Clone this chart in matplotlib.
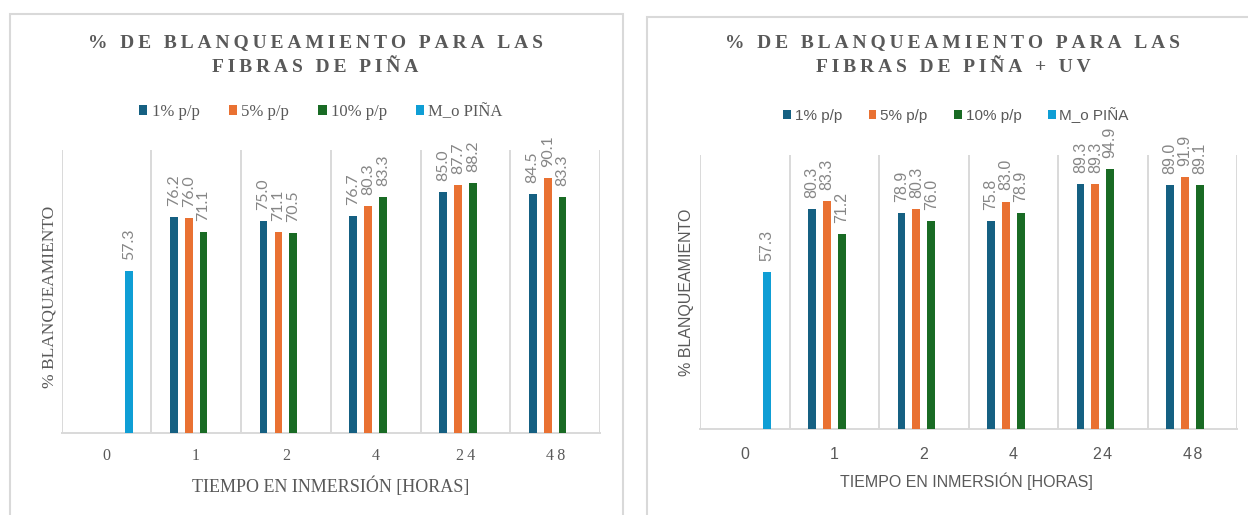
import numpy as np
import matplotlib.pyplot as plt
from matplotlib.patches import Rectangle, Patch

horas = ["0", "1", "2", "4", "24", "48"]
series = ["1% p/p", "5% p/p", "10% p/p", "M_o PIÑA"]
colores = ["#156082", "#E97132", "#196B24", "#0F9ED5"]

# % de blanqueamiento, fibras de piña
pina_1 = [np.nan, 76.2, 75.0, 76.7, 85.0, 84.5]
pina_5 = [np.nan, 76.0, 71.1, 80.3, 87.7, 90.1]
pina_10 = [np.nan, 71.1, 70.5, 83.3, 88.2, 83.3]
pina_mo = [57.3, np.nan, np.nan, np.nan, np.nan, np.nan]

# % de blanqueamiento, fibras de piña + UV
uv_1 = [np.nan, 80.3, 78.9, 75.8, 89.3, 89.0]
uv_5 = [np.nan, 83.3, 80.3, 83.0, 89.3, 91.9]
uv_10 = [np.nan, 71.2, 76.0, 78.9, 94.9, 89.1]
uv_mo = [57.3, np.nan, np.nan, np.nan, np.nan, np.nan]

TITULO_1 = ["% DE BLANQUEAMIENTO PARA LAS", "FIBRAS DE PIÑA"]
TITULO_2 = ["% DE BLANQUEAMIENTO PARA LAS", "FIBRAS DE PIÑA + UV"]
XLABEL = "TIEMPO EN INMERSIÓN [HORAS]"
YLABEL = "% BLANQUEAMIENTO"

GRIS_TXT = "#595959"
GRIS_LBL = "#868686"
GRIS_LINEA = "#d9d9d9"

W, H = 1248, 515


def espaciar(texto, sep="\u2009"):
    # tracking manual: matplotlib no tiene letter-spacing
    return sep.join(texto)


def px_axes(x0, y0, x1, y1):
    # caja en pixeles (origen arriba-izquierda) -> fracción de figura
    return [x0 / W, 1 - y1 / H, (x1 - x0) / W, (y1 - y0) / H]


def titulo(lineas, xc, ys):
    for linea, y in zip(lineas, ys):
        fig.text(xc / W, 1 - y / H, espaciar(linea), ha="center", va="center",
                 family="Liberation Serif", fontweight="bold", fontsize=14,
                 color=GRIS_TXT)


def panel(ax, valores, fuente, fuente_lbl, tam_lbl, espaciado_ticks):
    x = np.arange(len(horas))
    slot = 1 / 6
    ancho = 0.086
    handles = []
    for i, (vals, color) in enumerate(zip(valores, colores)):
        v = np.array(vals, dtype=float)
        m = ~np.isnan(v)
        cont = ax.bar(x[m] + (i - 1.5) * slot, v[m], width=ancho, color=color,
                      label=series[i], zorder=3)
        ax.bar_label(cont, labels=[f"{val:.1f}" for val in v[m]], rotation=90,
                     padding=8, fontsize=tam_lbl, color=GRIS_LBL,
                     family=fuente_lbl)
        handles.append(Patch(facecolor=color, label=series[i]))

    ax.set_xlim(-0.5, len(horas) - 0.5)
    ax.set_ylim(0, 100)
    ax.set_xticks(x)
    ax.set_xticklabels([espaciar(h, espaciado_ticks) for h in horas],
                       family=fuente, fontsize=11.5, color=GRIS_TXT)
    ax.set_xticks(np.arange(len(horas) + 1) - 0.5, minor=True)
    ax.tick_params(axis="x", which="both", length=0)
    ax.grid(axis="x", which="minor", color=GRIS_LINEA, linewidth=1.4, zorder=0)
    ax.set_yticks([])
    for s in ["top", "right", "left"]:
        ax.spines[s].set_visible(False)
    ax.spines["bottom"].set_color(GRIS_LINEA)
    ax.spines["bottom"].set_linewidth(1.4)
    return handles


fig = plt.figure(figsize=(W / 100, H / 100), dpi=100)

# recuadros de cada gráfico
for (x0, y0, x1) in [(10, 14, 623), (647, 17, 1262)]:
    fig.add_artist(Rectangle((x0 / W, -0.05), (x1 - x0) / W, 1.05 - y0 / H,
                             transform=fig.transFigure, fill=False,
                             edgecolor=GRIS_LINEA, linewidth=1.5))

# --- sin UV (fuente serif) ---
ax1 = fig.add_axes(px_axes(61.5, 150, 600, 433))
h1 = panel(ax1, [pina_1, pina_5, pina_10, pina_mo], "Liberation Serif",
           "Lato", 11.5, "\u2009")
ax1.tick_params(axis="x", which="both", pad=11)
titulo(TITULO_1, 315, [43, 67])
fig.legend(handles=h1, loc="center", bbox_to_anchor=(321 / W, 1 - 112 / H),
           ncol=4, frameon=False, prop={"family": "Liberation Serif", "size": 12},
           labelcolor=GRIS_TXT, handlelength=0.5, handleheight=0.5,
           handletextpad=0.25, columnspacing=1.75)
ax1.set_xlabel(XLABEL, family="Liberation Serif", fontsize=13, color=GRIS_TXT)
ax1.xaxis.set_label_coords(0.5, -0.152)
ax1.set_ylabel(YLABEL, family="Liberation Serif", fontsize=12.5, color=GRIS_TXT)
ax1.yaxis.set_label_coords(-0.0065, 0.48)

# --- con UV (fuente sans) ---
ax2 = fig.add_axes(px_axes(700, 155, 1237, 429))
h2 = panel(ax2, [uv_1, uv_5, uv_10, uv_mo], "Liberation Sans",
           "Liberation Sans", 11.5, "\u200a")
ax2.tick_params(axis="x", which="both", pad=13)
titulo(TITULO_2, 953, [43, 68])
fig.legend(handles=h2, loc="center", bbox_to_anchor=(956 / W, 1 - 115 / H),
           ncol=4, frameon=False, prop={"family": "Liberation Sans", "size": 11},
           labelcolor=GRIS_TXT, handlelength=0.5, handleheight=0.5,
           handletextpad=0.25, columnspacing=1.75)
ax2.set_xlabel(XLABEL, family="Liberation Sans", fontsize=11.5, color=GRIS_TXT)
ax2.xaxis.set_label_coords(0.497, -0.16)
ax2.set_ylabel(YLABEL, family="Liberation Sans", fontsize=11.5, color=GRIS_TXT)
ax2.yaxis.set_label_coords(-0.011, 0.5)

fig.savefig("out.png", dpi=100, facecolor="white")
